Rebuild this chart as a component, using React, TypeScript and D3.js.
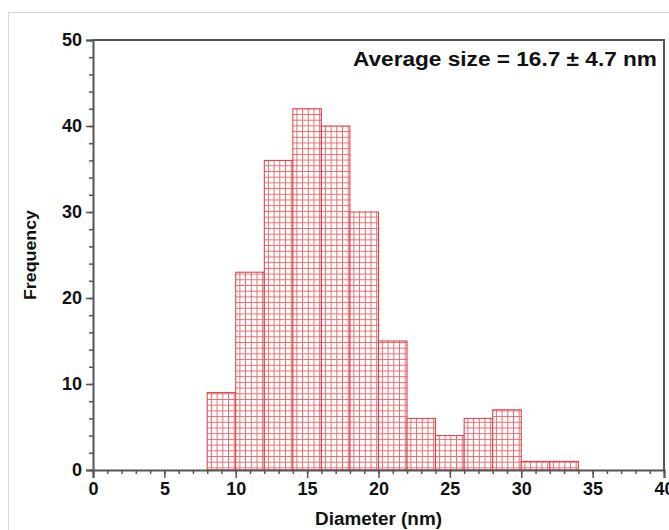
import React, { useEffect, useRef } from "react";
import * as d3 from "d3";

const binStarts = [8, 10, 12, 14, 16, 18, 20, 22, 24, 26, 28, 30, 32];
const binWidth = 2;
const frequencies = [9, 23, 36, 42, 40, 30, 15, 6, 4, 6, 7, 1, 1];
const xTicks = [0, 5, 10, 15, 20, 25, 30, 35, 40];
const yTicks = [0, 10, 20, 30, 40, 50];
const annotation = "Average size = 16.7 ± 4.7 nm";

const App = () => {
  const svgRef = useRef<SVGSVGElement>(null);

  useEffect(() => {
    const W = 669;
    const H = 530;
    const m = { left: 93, right: 5, top: 40, bottom: 60 };
    const font = "Arial, 'Liberation Sans', sans-serif";

    const svg = d3.select(svgRef.current);
    svg.selectAll("*").remove();

    // cross-hatch fill
    const defs = svg.append("defs");
    const pat = defs
      .append("pattern")
      .attr("id", "grid")
      .attr("patternUnits", "userSpaceOnUse")
      .attr("width", 5.7)
      .attr("height", 5.7);
    pat.append("rect").attr("width", 5.7).attr("height", 5.7).attr("fill", "#fff");
    pat
      .append("path")
      .attr("d", "M0,0.5H5.7M0.5,0V5.7")
      .attr("stroke", "#e0474c")
      .attr("stroke-width", 1)
      .attr("opacity", 0.8);

    // frame of the picture
    svg
      .append("rect")
      .attr("x", 8.5)
      .attr("y", 12.5)
      .attr("width", W)
      .attr("height", H)
      .attr("fill", "none")
      .attr("stroke", "#d8d8d8");

    const x = d3.scaleLinear().domain([0, 40]).range([m.left, W - m.right]);
    const y = d3.scaleLinear().domain([0, 50]).range([H - m.bottom, m.top]);

    // bars
    svg
      .append("g")
      .selectAll("rect")
      .data(binStarts)
      .join("rect")
      .attr("x", (d) => x(d))
      .attr("y", (d, i) => y(frequencies[i]))
      .attr("width", x(binWidth) - x(0))
      .attr("height", (d, i) => y(0) - y(frequencies[i]))
      .attr("fill", "url(#grid)")
      .attr("stroke", "#e0383e")
      .attr("stroke-width", 1);

    const axisColor = "#555";

    // frame (top + right)
    svg
      .append("path")
      .attr("d", `M${x(0)},${y(50)}H${x(40)}V${y(0)}`)
      .attr("fill", "none")
      .attr("stroke", axisColor)
      .attr("stroke-width", 2);

    // x axis
    const xAxis = svg
      .append("g")
      .attr("transform", `translate(0,${y(0)})`)
      .call(d3.axisBottom(x).tickValues(d3.range(0, 41, 1)).tickSize(4).tickFormat(() => ""));
    xAxis.select(".domain").remove();
    xAxis.selectAll("line").attr("stroke", axisColor).attr("stroke-width", 1.5);
    const xMajor = svg
      .append("g")
      .attr("transform", `translate(0,${y(0)})`)
      .call(d3.axisBottom(x).tickValues(xTicks).tickSize(8).tickPadding(4));
    xMajor.select(".domain").attr("stroke", axisColor).attr("stroke-width", 2);
    xMajor.selectAll("line").attr("stroke", axisColor).attr("stroke-width", 1.5);
    xMajor
      .selectAll("text")
      .attr("fill", "#111")
      .style("font-family", font)
      .style("font-size", "18px")
      .style("font-weight", "bold");

    // y axis
    const yAxis = svg
      .append("g")
      .attr("transform", `translate(${x(0)},0)`)
      .call(d3.axisLeft(y).tickValues(d3.range(0, 51, 2)).tickSize(4).tickFormat(() => ""));
    yAxis.select(".domain").remove();
    yAxis.selectAll("line").attr("stroke", axisColor).attr("stroke-width", 1.5);
    const yMajor = svg
      .append("g")
      .attr("transform", `translate(${x(0)},0)`)
      .call(d3.axisLeft(y).tickValues(yTicks).tickSize(7).tickPadding(4));
    yMajor.select(".domain").attr("stroke", axisColor).attr("stroke-width", 2);
    yMajor.selectAll("line").attr("stroke", axisColor).attr("stroke-width", 1.5);
    yMajor
      .selectAll("text")
      .attr("fill", "#111")
      .style("font-family", font)
      .style("font-size", "18px")
      .style("font-weight", "bold");

    svg
      .append("text")
      .attr("x", (x(0) + x(40)) / 2)
      .attr("y", 525)
      .attr("text-anchor", "middle")
      .attr("fill", "#111")
      .style("font-family", font)
      .style("font-size", "18px")
      .style("font-weight", "bold")
      .attr("textLength", 127)
      .attr("lengthAdjust", "spacingAndGlyphs")
      .text("Diameter (nm)");

    svg
      .append("text")
      .attr("transform", `translate(36,${y(25)}) rotate(-90)`)
      .attr("text-anchor", "middle")
      .attr("fill", "#111")
      .style("font-family", font)
      .style("font-size", "17px")
      .style("font-weight", "bold")
      .attr("textLength", 90)
      .attr("lengthAdjust", "spacingAndGlyphs")
      .text("Frequency");

    svg
      .append("text")
      .attr("x", 657)
      .attr("y", 66)
      .attr("text-anchor", "end")
      .attr("fill", "#111")
      .style("font-family", font)
      .style("font-size", "20px")
      .style("font-weight", "bold")
      .attr("textLength", 304)
      .attr("lengthAdjust", "spacingAndGlyphs")
      .text(annotation);
  }, []);

  return (
    <svg
      ref={svgRef}
      width={669}
      height={530}
      style={{ position: "absolute", left: 0, top: 0, background: "#fff" }}
    />
  );
};

export default App;
